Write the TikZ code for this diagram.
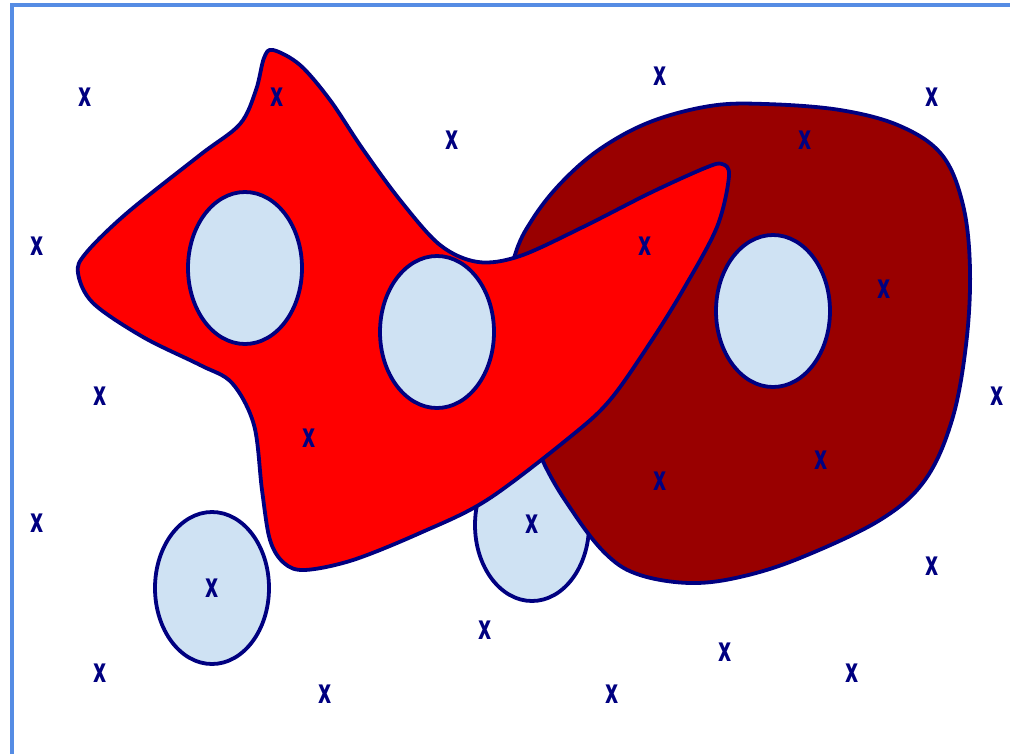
\documentclass[tikz,border=0pt]{standalone}
\usepackage{fontspec}
\usepackage{tikz}
\usetikzlibrary{shapes.geometric}
\newfontfamily\markfont{DejaVu Sans}
\definecolor{rimblue}{RGB}{0,0,128}
\definecolor{holefill}{RGB}{207,226,243}
\definecolor{blobred}{RGB}{255,0,0}
\definecolor{blobdark}{RGB}{153,0,0}
\definecolor{framecol}{RGB}{85,140,228}

\begin{document}
\begin{tikzpicture}[x=1pt, y=-1pt,
  blob/.style={draw=rimblue, line width=3.8pt, line join=round},
  hole/.style={ellipse, draw=rimblue, fill=holefill, line width=3.8pt,
    minimum width=114pt, minimum height=152pt, inner sep=0pt},
  xmark/.style={text=rimblue, inner sep=0pt,
    font=\fontsize{34}{34}\markfont\bfseries}]
  \useasboundingbox (0,0) rectangle (1010,753);
  \clip (0,0) rectangle (1010,753);
  \draw[framecol, line width=3.4pt] (12,780) -- (12,5) -- (1040,5);
  % hole under both blobs
  \node[hole] (h5) at (532,525) {};
  % dark blob
  \draw[blob, fill=blobdark] plot[smooth cycle, tension=0.6] coordinates {
    (514,258) (532,220) (561,183) (600,149) (650,122) (710,106) (765,104)
    (840,110) (900,126) (942,155) (963,205) (970,270) (966,345) (952,420)
    (925,480) (880,520) (800,558) (740,577) (690,583) (640,575) (608,556)
    (575,515) (540,455) (495,340)};
  % red blob
  \draw[blob, fill=blobred] plot[smooth cycle, tension=0.55] coordinates {
    (273,50) (300,65) (330,100) (362,148) (400,200) (440,245) (478,262)
    (520,256) (583,227) (650,193) (705,168) (722,164) (729,176) (717,227)
    (683,290) (650,343) (610,400) (570,437) (487,500) (420,533) (353,560)
    (305,570) (284,563) (270,540) (262,490) (254,425) (232,383) (200,365)
    (143,337) (93,303) (78,273) (86,253) (127,213) (200,155) (240,124)
    (256,90) (264,58)};
  % holes on top
  \node[hole] (h1) at (245,268) {};
  \node[hole] (h2) at (437,332) {};
  \node[hole] (h3) at (773,311) {};
  \node[hole] (h4) at (212,588) {};
  % sample marks
  \foreach \px/\py [count=\i] in {85/97, 277/97, 452/140, 660/76, 805/140,
      932/97, 37/246, 645/246, 884/289, 100/396, 997/396, 309/438, 660/481,
      821/460, 37/523, 532/524, 932/566, 212/588, 485/630, 725/652, 100/673,
      852/673, 325/694, 612/694}
    \node[xmark] (m\i) at (\px,\py) {\scalebox{0.6}[1]{x}};
\end{tikzpicture}
\end{document}
